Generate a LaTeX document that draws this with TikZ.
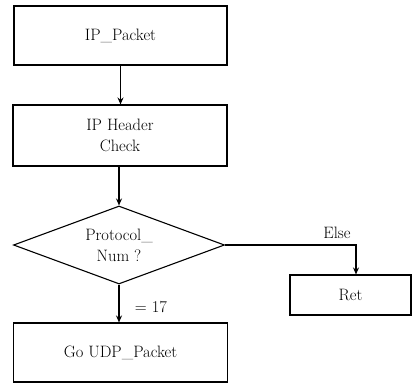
\documentclass[tikz,border=0pt]{standalone}
\usetikzlibrary{shapes.geometric,arrows.meta}
\begin{document}
\begin{tikzpicture}[x=1pt,y=-1pt,
  every node/.style={font=\fontsize{16.5}{21}\selectfont},
  box/.style={draw,line width=1.1pt,rectangle,inner sep=0pt,align=center},
  dec/.style={draw,line width=1.1pt,diamond,aspect=2.7,inner sep=0pt,align=center,minimum width=211pt,minimum height=78pt},
  conn/.style={line width=1.1pt,-{Stealth[length=7pt,width=6pt]}},
  lbl/.style={inner sep=0pt}]
\useasboundingbox (0,0) rectangle (412,385);
\node[box,minimum width=213pt,minimum height=59pt] (b1) at (120.5,35.5) {IP\_Packet};
\node[box,minimum width=214pt,minimum height=61pt] (b2) at (120,135.5) {IP Header\\Check};
\node[dec] (d) at (119,245) {Protocol\_\\Num ?};
\node[box,minimum width=214pt,minimum height=59pt] (b4) at (120.5,352.5) {Go UDP\_Packet};
\node[box,minimum width=121pt,minimum height=40pt] (ret) at (350.5,295) {Ret};
\coordinate (elsex) at (356,0);
\draw[conn] (b1.south) -- (b1.south |- b2.north);
\draw[conn] (b2.south) -- (b2.south -| d.north) -- (d.north);
\draw[conn] (d.east) -| (elsex |- ret.north);
\draw[conn] (d.south) -- (d.south |- b4.north);
\node[lbl] (else) at (337,233) {Else};
\node[lbl] (eq) at (151,307) {= 17};
\end{tikzpicture}
\end{document}
